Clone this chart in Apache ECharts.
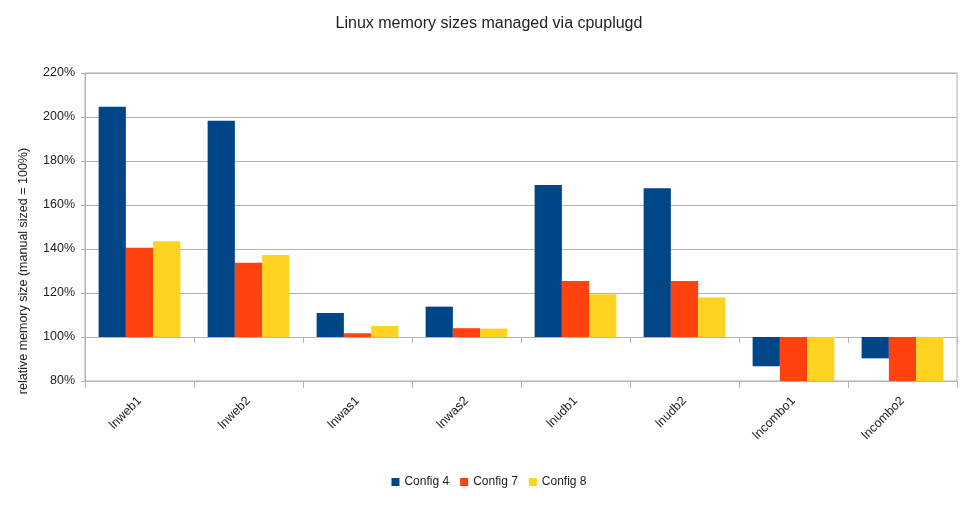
<!DOCTYPE html>
<html>
<head>
<meta charset="utf-8">
<script src="https://cdn.jsdelivr.net/npm/echarts@6/dist/echarts.min.js"></script>
<style>
  html, body { margin: 0; padding: 0; background: #fff; }
  #main { width: 978px; height: 510px; }
</style>
</head>
<body>
<div id="main"></div>
<script>
// categories and values (percent of manual sized memory)
var categories = ['lnweb1', 'lnweb2', 'lnwas1', 'lnwas2', 'lnudb1', 'lnudb2', 'lncombo1', 'lncombo2'];
var config4 = [204.7, 198.3, 110.9, 113.8, 169.1, 167.6, 86.7, 90.3];
var config7 = [140.6, 133.8, 101.7, 104.0, 125.5, 125.5, 80, 80];
var config8 = [143.5, 137.3, 105.0, 103.8, 119.4, 117.9, 80, 80];
var seriesNames = ['Config 4', 'Config 7', 'Config 8'];
var yTicks = [80, 100, 120, 140, 160, 180, 200, 220];

var BASE = 100; // bars grow from the 100% line
var font = 'Liberation Sans, Arial, sans-serif';

var chart = echarts.init(document.getElementById('main'));

function offset(list) {
  return list.map(function (v) { return +(v - BASE).toFixed(2); });
}

var option = {
  animation: false,
  color: ['#004586', '#ff420e', '#ffd320'],
  textStyle: { fontFamily: font },
  title: {
    text: 'Linux memory sizes managed via cpuplugd',
    left: 'center',
    top: 11,
    textStyle: { fontSize: 16, fontWeight: 'normal', color: '#222', fontFamily: font }
  },
  legend: {
    data: seriesNames,
    bottom: 17,
    left: 'center',
    itemWidth: 8,
    itemHeight: 8,
    itemGap: 11,
    icon: 'rect',
    textStyle: { fontSize: 12, color: '#222', padding: [0, 0, 0, 0] }
  },
  grid: {
    left: 85,
    right: 21,
    top: 73,
    bottom: 129,
    show: true,
    borderColor: '#b3b3b3',
    borderWidth: 1
  },
  xAxis: [{
    type: 'category',
    data: categories,
    axisLine: { onZero: false, lineStyle: { color: '#b3b3b3' } },
    axisTick: { show: true, length: 7, lineStyle: { color: '#b3b3b3' } },
    axisLabel: { rotate: 45, fontSize: 12.5, color: '#222', margin: 18 }
  }, {
    // the 100% line with its ticks
    type: 'category',
    data: categories,
    position: 'bottom',
    axisLine: { onZero: true, lineStyle: { color: '#b3b3b3' } },
    axisTick: { show: true, length: 6, lineStyle: { color: '#b3b3b3' } },
    axisLabel: { show: false }
  }],
  yAxis: {
    type: 'value',
    min: yTicks[0] - BASE,
    max: yTicks[yTicks.length - 1] - BASE,
    interval: 20,
    name: 'relative memory size (manual sized = 100%)',
    nameLocation: 'middle',
    nameGap: 55,
    nameTextStyle: { fontSize: 12.5, color: '#222', padding: [0, 88, 0, 0] },
    axisLine: { show: true, lineStyle: { color: '#b3b3b3' } },
    axisTick: { show: true, length: 4, lineStyle: { color: '#b3b3b3' } },
    splitLine: { lineStyle: { color: '#b3b3b3' } },
    axisLabel: {
      fontSize: 12.5,
      color: '#222',
      margin: 10,
      formatter: function (v) { return (v + BASE) + '%'; }
    }
  },
  series: [
    { name: seriesNames[0], type: 'bar', data: offset(config4), barGap: '0%', barCategoryGap: '25%' },
    { name: seriesNames[1], type: 'bar', data: offset(config7), barGap: '0%', barCategoryGap: '25%' },
    { name: seriesNames[2], type: 'bar', data: offset(config8), barGap: '0%', barCategoryGap: '25%' }
  ]
};

chart.setOption(option);
</script>
</body>
</html>
